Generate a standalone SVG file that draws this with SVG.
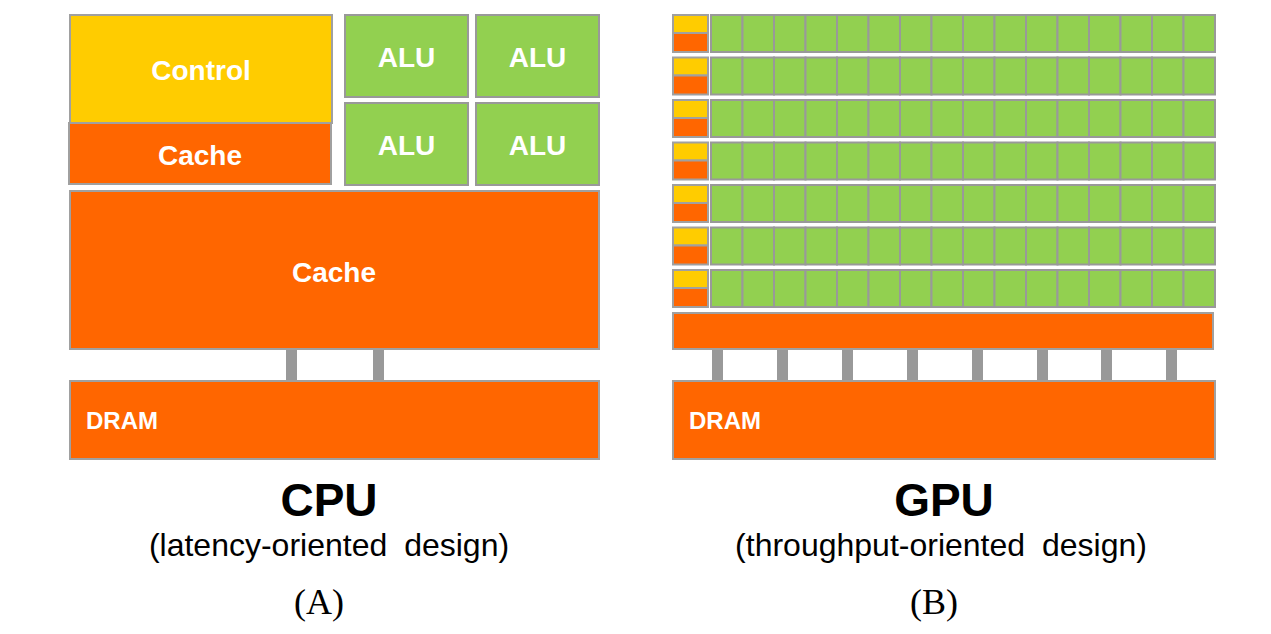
<svg xmlns="http://www.w3.org/2000/svg" width="1271" height="634" viewBox="0 0 1271 634">
<defs>
<style>
.y{fill:#FFCC00;stroke:#A0A0A0;stroke-width:2}
.o{fill:#FF6600;stroke:#A0A0A0;stroke-width:2}
.g{fill:#92D050;stroke:#999999;stroke-width:2}
.p{fill:#999999}
.lbl{font-family:"Liberation Sans",Arial,sans-serif;font-weight:bold;fill:#FFFFFF;font-size:28px;text-anchor:middle}
.dram{font-family:"Liberation Sans",Arial,sans-serif;font-weight:bold;fill:#FFFFFF;font-size:24px}
.title{font-family:"Liberation Sans",Arial,sans-serif;font-weight:bold;fill:#000;font-size:46px;text-anchor:middle}
.sub{font-family:"Liberation Sans",Arial,sans-serif;fill:#000;font-size:32px;text-anchor:middle;word-spacing:8px}
.cap{font-family:"Liberation Serif","Times New Roman",serif;fill:#000;font-size:36px;text-anchor:middle}
</style>
<g id="gcell">
<rect class="g" x="0" y="0" width="31.5" height="37"/>
</g>
<g id="grow">
<rect class="y" x="673" y="0" width="35" height="18"/>
<rect class="o" x="673" y="18" width="35" height="19"/>
<use href="#gcell" x="711"/><use href="#gcell" x="742.5"/><use href="#gcell" x="774"/><use href="#gcell" x="805.5"/>
<use href="#gcell" x="837"/><use href="#gcell" x="868.5"/><use href="#gcell" x="900"/><use href="#gcell" x="931.5"/>
<use href="#gcell" x="963"/><use href="#gcell" x="994.5"/><use href="#gcell" x="1026"/><use href="#gcell" x="1057.5"/>
<use href="#gcell" x="1089"/><use href="#gcell" x="1120.5"/><use href="#gcell" x="1152"/><use href="#gcell" x="1183.5"/>
</g>
</defs>
<rect width="1271" height="634" fill="#FFFFFF"/>

<g id="connectors">
<rect class="p" x="286" y="349" width="11" height="33"/>
<rect class="p" x="373" y="349" width="11" height="33"/>
<rect class="p" x="712" y="349" width="11" height="33"/>
<rect class="p" x="777" y="349" width="11" height="33"/>
<rect class="p" x="842" y="349" width="11" height="33"/>
<rect class="p" x="907" y="349" width="11" height="33"/>
<rect class="p" x="972" y="349" width="11" height="33"/>
<rect class="p" x="1037" y="349" width="11" height="33"/>
<rect class="p" x="1101" y="349" width="11" height="33"/>
<rect class="p" x="1166" y="349" width="11" height="33"/>
</g>

<g id="cpu-control"><rect class="y" x="70" y="15" width="262" height="108"/><text class="lbl" x="201" y="80">Control</text></g>
<g id="cpu-cache-small"><rect class="o" x="69" y="123" width="262" height="61"/><text class="lbl" x="200" y="165">Cache</text></g>
<g id="cpu-alu-1"><rect class="g" x="345" y="15" width="123" height="82"/><text class="lbl" x="406.5" y="67">ALU</text></g>
<g id="cpu-alu-2"><rect class="g" x="476" y="15" width="123" height="82"/><text class="lbl" x="537.5" y="67">ALU</text></g>
<g id="cpu-alu-3"><rect class="g" x="345" y="103" width="123" height="82"/><text class="lbl" x="406.5" y="155">ALU</text></g>
<g id="cpu-alu-4"><rect class="g" x="476" y="103" width="123" height="82"/><text class="lbl" x="537.5" y="155">ALU</text></g>
<g id="cpu-cache-big"><rect class="o" x="70" y="191" width="529" height="158"/><text class="lbl" x="334" y="282">Cache</text></g>
<g id="cpu-dram"><rect class="o" x="70" y="381" width="529" height="78"/><text class="dram" x="86" y="429">DRAM</text></g>

<g id="gpu-row-1"><use href="#grow" y="15"/></g>
<g id="gpu-row-2"><use href="#grow" y="57.5"/></g>
<g id="gpu-row-3"><use href="#grow" y="100"/></g>
<g id="gpu-row-4"><use href="#grow" y="142.5"/></g>
<g id="gpu-row-5"><use href="#grow" y="185"/></g>
<g id="gpu-row-6"><use href="#grow" y="227.5"/></g>
<g id="gpu-row-7"><use href="#grow" y="270"/></g>
<g id="gpu-cache"><rect class="o" x="673" y="313" width="540" height="36"/></g>
<g id="gpu-dram"><rect class="o" x="673" y="381" width="542" height="78"/><text class="dram" x="689" y="429">DRAM</text></g>

<g id="cpu-caption">
<text class="title" x="329" y="516">CPU</text>
<text class="sub" x="329" y="556">(latency-oriented design)</text>
<text class="cap" x="319" y="614">(A)</text>
</g>
<g id="gpu-caption">
<text class="title" x="944" y="516">GPU</text>
<text class="sub" x="941" y="556">(throughput-oriented design)</text>
<text class="cap" x="934" y="614">(B)</text>
</g>
</svg>
